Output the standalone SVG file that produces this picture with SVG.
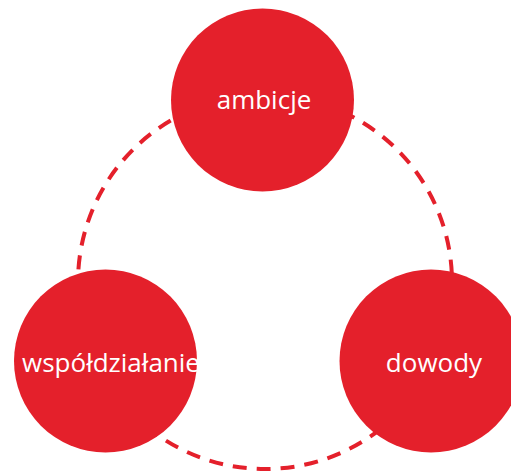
<svg xmlns="http://www.w3.org/2000/svg" width="511" height="473" viewBox="0 0 511 473">
<style>
.node{fill:#E4202B;}
.lbl{fill:#ffffff;font-family:"Open Sans","Liberation Sans",sans-serif;font-size:26px;text-anchor:middle;}
.ring{fill:none;stroke:#E4202B;stroke-width:4;stroke-dasharray:14 10;}
</style>
<rect width="511" height="473" fill="#ffffff"/>
<g id="connectors">
<circle class="ring" cx="265" cy="282" r="187"/>
</g>
<g id="ambicje">
<circle class="node" cx="262.5" cy="100" r="91.5"/>
<text class="lbl" x="264" y="109">ambicje</text>
</g>
<g id="wspoldzialanie">
<circle class="node" cx="105.5" cy="361" r="91.5"/>
<text class="lbl" x="111" y="372">współdziałanie</text>
</g>
<g id="dowody">
<circle class="node" cx="431" cy="361" r="91.5"/>
<text class="lbl" x="434" y="372">dowody</text>
</g>
</svg>
